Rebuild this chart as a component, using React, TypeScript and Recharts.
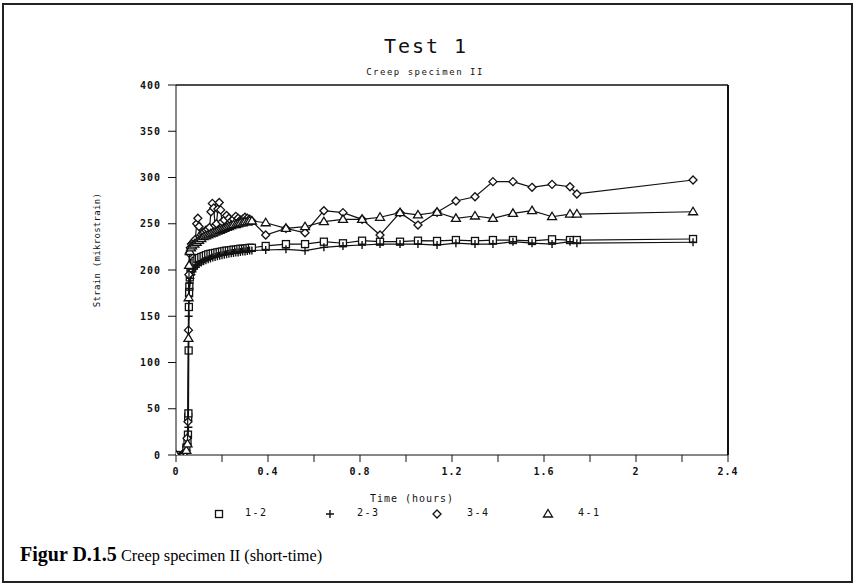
import React from "react";
import { ScatterChart, Scatter, XAxis, YAxis, ReferenceLine } from "recharts";

// time (hours) of the sparse readings after the first ~20 minutes
const T_LATE = [0.39, 0.478, 0.561, 0.643, 0.726, 0.809, 0.887, 0.974, 1.052, 1.135, 1.217, 1.3, 1.378, 1.465, 1.548, 1.635, 1.713, 1.743, 2.248];

// 1-2 (squares)
const T12_EARLY = [0, 0.045, 0.05, 0.052, 0.053, 0.054, 0.055, 0.056, 0.057, 0.058, 0.06, 0.063, 0.067, 0.072, 0.078, 0.085, 0.093, 0.1, 0.11, 0.12, 0.13, 0.14, 0.15, 0.16, 0.17, 0.18, 0.19, 0.2, 0.21, 0.22, 0.23, 0.24, 0.25, 0.26, 0.27, 0.28, 0.29, 0.3, 0.31, 0.32, 0.33];
const S12_EARLY = [0, 8, 15, 22, 41, 45, 113, 160, 175, 182, 192, 198, 202, 205, 208, 210, 212, 213, 214, 215, 216, 217, 217.5, 218, 218.5, 219, 219.5, 220, 220.5, 221, 221, 221.5, 222, 222, 222.5, 223, 223, 223, 223.5, 224, 224];
const S12_LATE = [226, 228, 228, 230.6, 228.9, 231.7, 230.6, 230.6, 231.7, 231.4, 232.4, 231.4, 232.4, 232.4, 231.4, 233.2, 232.4, 232.4, 233.5];

// 2-3 (plus)
const T23_EARLY = [0, 0.045, 0.05, 0.052, 0.054, 0.055, 0.056, 0.058, 0.06, 0.063, 0.067, 0.072, 0.078, 0.085, 0.093, 0.1, 0.11, 0.12, 0.13, 0.14, 0.15, 0.16, 0.17, 0.18, 0.19, 0.2, 0.21, 0.22, 0.23, 0.24, 0.25, 0.26, 0.27, 0.28, 0.29, 0.3, 0.31, 0.32, 0.33];
const S23_EARLY = [0, 5, 12, 20, 30, 150, 172, 180, 186, 191, 195, 198, 201, 203, 205, 206.5, 208, 209.5, 210.5, 211.5, 212.5, 213.5, 214, 215, 215.5, 216, 216.5, 217, 217.5, 218, 218.5, 219, 219, 219.5, 220, 220, 220.5, 221, 221];
const S23_LATE = [221.6, 222.4, 220.9, 224.5, 226, 227, 228, 228, 228, 227, 229, 228, 228, 230.6, 229, 228, 230.6, 229, 230];

// 3-4 (diamonds)
const T34_EARLY = [0, 0.04, 0.048, 0.052, 0.054, 0.056, 0.058, 0.062, 0.067, 0.072, 0.078, 0.084, 0.09, 0.095, 0.1, 0.104, 0.11, 0.116, 0.122, 0.13, 0.138, 0.146, 0.152, 0.158, 0.164, 0.17, 0.176, 0.182, 0.188, 0.194, 0.2, 0.21, 0.22, 0.23, 0.24, 0.25, 0.26, 0.27, 0.28, 0.29, 0.3, 0.31, 0.32, 0.33];
const S34_EARLY = [0, 3, 18, 36, 135, 195, 218, 224, 228, 229, 231, 233, 250, 256, 247, 236, 238, 240, 241, 243, 244, 246, 263, 272, 267, 248, 250, 266, 273, 265, 252, 254, 259, 256, 253, 255, 258, 256, 254, 255, 257, 256, 255, 253];
const S34_LATE = [237.8, 245, 240.3, 264.1, 262, 254.8, 237.8, 262, 248.6, 262.4, 274.6, 279.2, 295.5, 295.5, 289.4, 292.6, 290, 282.2, 297.3];

// 4-1 (triangles)
const T41_EARLY = [0, 0.045, 0.05, 0.054, 0.055, 0.057, 0.06, 0.065, 0.07, 0.08, 0.09, 0.1, 0.11, 0.12, 0.13, 0.14, 0.15, 0.16, 0.17, 0.18, 0.19, 0.2, 0.21, 0.22, 0.23, 0.24, 0.25, 0.26, 0.27, 0.28, 0.29, 0.3, 0.31, 0.32, 0.33];
const S41_EARLY = [0, 5, 12, 126, 170, 205, 220, 224, 226, 228, 230, 232, 234, 236, 237, 238, 239, 240, 241, 242, 243, 244, 245, 246, 247, 248, 249, 249, 250, 251, 251, 252, 252, 253, 253];
const S41_LATE = [251.1, 245, 246.8, 252.2, 254.8, 254.8, 257, 262, 259.5, 262.4, 255.9, 258.4, 255.9, 261.3, 264.1, 257.6, 260.5, 260.5, 263];

const X_TICKS = [0, 0.2, 0.4, 0.6, 0.8, 1, 1.2, 1.4, 1.6, 1.8, 2, 2.2, 2.4];
const Y_TICKS = [0, 50, 100, 150, 200, 250, 300, 350, 400];

const pts = (t: number[], v: number[]) => t.map((x, i) => ({ t: x, v: v[i] }));
const d12 = [...pts(T12_EARLY, S12_EARLY), ...pts(T_LATE, S12_LATE)];
const d23 = [...pts(T23_EARLY, S23_EARLY), ...pts(T_LATE, S23_LATE)];
const d34 = [...pts(T34_EARLY, S34_EARLY), ...pts(T_LATE, S34_LATE)];
const d41 = [...pts(T41_EARLY, S41_EARLY), ...pts(T_LATE, S41_LATE)];

const INK = "#111";
const MONO = "'DejaVu Sans Mono', monospace";

const Square = ({ cx, cy }: any) => (
  <rect x={cx - 3.5} y={cy - 3.5} width={7} height={7} fill="#fff" stroke={INK} strokeWidth={1.3} />
);
const Plus = ({ cx, cy }: any) => (
  <path d={`M${cx - 4},${cy}H${cx + 4}M${cx},${cy - 4}V${cy + 4}`} stroke={INK} strokeWidth={1.4} fill="none" />
);
const Diamond = ({ cx, cy }: any) => (
  <polygon points={`${cx},${cy - 4} ${cx + 4},${cy} ${cx},${cy + 4} ${cx - 4},${cy}`} fill="#fff" stroke={INK} strokeWidth={1.3} />
);
const Triangle = ({ cx, cy }: any) => (
  <polygon points={`${cx},${cy - 4.5} ${cx + 4.5},${cy + 3} ${cx - 4.5},${cy + 3}`} fill="#fff" stroke={INK} strokeWidth={1.3} />
);

const LEGEND = [
  { name: "1-2", Shape: Square, mx: 219, tx: 245 },
  { name: "2-3", Shape: Plus, mx: 330, tx: 357 },
  { name: "3-4", Shape: Diamond, mx: 437, tx: 467 },
  { name: "4-1", Shape: Triangle, mx: 548, tx: 578 },
];

function LegendRow() {
  return (
    <div style={{ position: "absolute", left: 0, top: 506, width: 857, height: 16 }}>
      {LEGEND.map(({ name, Shape, mx, tx }) => (
        <React.Fragment key={name}>
          <svg width={12} height={12} style={{ position: "absolute", left: mx - 6, top: 2 }}>
            <Shape cx={6} cy={6} />
          </svg>
          <span style={{ position: "absolute", left: tx, top: 1, fontFamily: MONO, fontSize: 10, letterSpacing: 1.5, color: INK }}>
            {name}
          </span>
        </React.Fragment>
      ))}
    </div>
  );
}

const center = (x: number, y: number, extra: React.CSSProperties = {}): React.CSSProperties => ({
  position: "absolute",
  left: x,
  top: y,
  transform: "translate(-50%, -50%)",
  whiteSpace: "nowrap",
  fontFamily: MONO,
  color: INK,
  ...extra,
});

const fmtX = (v: number) => (Math.round(v * 10) % 4 === 0 ? String(Math.round(v * 10) / 10) : "");
const tickStyle = { fontSize: 10, fill: INK, fontFamily: MONO, letterSpacing: 1, fontWeight: "bold" as const };
const lineStyle = { stroke: INK, strokeWidth: 1.2 };

export default function App() {
  return (
    <div style={{ position: "absolute", left: 0, top: 0, width: 857, height: 584, background: "#fff", overflow: "hidden" }}>
      <div style={{ position: "absolute", left: 2, top: 3, width: 851, height: 580, border: "2px solid #222", boxSizing: "border-box" }} />
      <div style={center(426, 46, { fontSize: 20, letterSpacing: 2 })}>Test 1</div>
      <div style={center(425, 72, { fontSize: 9, letterSpacing: 1.5 })}>Creep specimen II</div>
      <div style={center(97, 250, { fontSize: 9, letterSpacing: 0.3, transform: "translate(-50%, -50%) rotate(-90deg)" })}>
        Strain (mikrostrain)
      </div>
      <div style={center(412, 498, { fontSize: 10, letterSpacing: 1 })}>Time (hours)</div>
      <div style={{ position: "absolute", left: 20, top: 543, fontFamily: "'Liberation Serif', serif", color: "#000", whiteSpace: "nowrap" }}>
        <b style={{ fontSize: 20 }}>Figur D.1.5</b>
        <span style={{ fontSize: 16.3 }}> Creep specimen II (short-time)</span>
      </div>
      <ScatterChart
        width={857}
        height={584}
        margin={{ top: 85, right: 129, bottom: 99, left: 116 }}
        style={{ position: "absolute", left: 0, top: 0 }}
      >
        <XAxis
          type="number"
          dataKey="t"
          domain={[0, 2.4]}
          ticks={X_TICKS}
          tickFormatter={fmtX}
          allowDataOverflow
          height={30}
          stroke={INK}
          tickSize={7}
          tickMargin={6}
          tick={tickStyle}
          interval={0}
        />
        <YAxis
          type="number"
          dataKey="v"
          domain={[0, 400]}
          ticks={Y_TICKS}
          allowDataOverflow
          width={60}
          stroke={INK}
          tickSize={8}
          tickMargin={7}
          tick={tickStyle}
          interval={0}
        />
        <ReferenceLine y={400} stroke={INK} strokeWidth={1.5} />
        <ReferenceLine x={2.4} stroke={INK} strokeWidth={2} />
        <Scatter name="1-2" data={d12} shape={Square} line={lineStyle} lineType="joint" isAnimationActive={false} />
        <Scatter name="2-3" data={d23} shape={Plus} line={lineStyle} lineType="joint" isAnimationActive={false} />
        <Scatter name="3-4" data={d34} shape={Diamond} line={lineStyle} lineType="joint" isAnimationActive={false} />
        <Scatter name="4-1" data={d41} shape={Triangle} line={lineStyle} lineType="joint" isAnimationActive={false} />
      </ScatterChart>
      <LegendRow />
    </div>
  );
}
